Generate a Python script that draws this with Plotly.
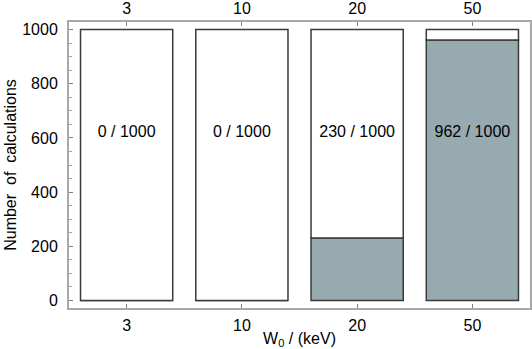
import plotly.graph_objects as go

# Data
energies = ["3", "10", "20", "50"]
converged = [0, 0, 230, 962]
total = [1000, 1000, 1000, 1000]
label_y = [620, 620, 620, 620]

remaining = [t - c for t, c in zip(total, converged)]
labels = [f"{c} / {t}" for c, t in zip(converged, total)]

fig = go.Figure()

# Gray part: converged calculations
fig.add_trace(go.Bar(x=energies, y=converged, marker_color="#97aab0",
                     marker_line_color="#3a3a3a", marker_line_width=1.5,
                     width=0.8, showlegend=False))
# White part: the rest up to the total
fig.add_trace(go.Bar(x=energies, y=remaining, base=converged, marker_color="white",
                     marker_line_color="#3a3a3a", marker_line_width=1.5,
                     width=0.8, showlegend=False))
# Labels in the middle of the bars
fig.add_trace(go.Scatter(x=energies, y=label_y, mode="text", text=labels,
                         textfont=dict(size=16, color="black"), showlegend=False))
# Invisible trace to get the top axis
fig.add_trace(go.Scatter(x=energies, y=label_y, xaxis="x2", mode="markers",
                         marker_opacity=0, showlegend=False, hoverinfo="skip"))

fig.update_layout(
    width=532, height=349,
    margin=dict(l=69, r=2, t=22, b=41),
    plot_bgcolor="white", paper_bgcolor="white",
    barmode="overlay",
    font=dict(family="Liberation Sans, Arial, sans-serif", size=16, color="black"),
    xaxis=dict(type="category", categoryorder="array", categoryarray=energies,
               range=[-0.5, 3.5], showline=True, linecolor="#a8a8a8", linewidth=2,
               ticks="inside", ticklen=4, tickcolor="#808080", showgrid=False,
               automargin=False, ticklabelstandoff=2,
               title=dict(text="W<sub>0</sub> / (keV)", standoff=0, font_size=16)),
    xaxis2=dict(type="category", categoryorder="array", categoryarray=energies,
                range=[-0.5, 3.5], overlaying="x", side="top", showline=True,
                linecolor="#a8a8a8", linewidth=2, ticks="inside", ticklen=4,
                tickcolor="#808080", showgrid=False, automargin=False),
    yaxis=dict(range=[-28, 1028], tickvals=[0, 200, 400, 600, 800, 1000],
               showline=True, linecolor="#a8a8a8", linewidth=2, mirror=True,
               ticks="inside", ticklen=4, tickcolor="#808080", showgrid=False,
               zeroline=False, automargin=False, ticklabelstandoff=6,
               minor=dict(dtick=50, tick0=0, ticks="inside", ticklen=3, tickcolor="#a0a0a0"),
               title=dict(text="Number  of  calculations", standoff=2, font_size=16)),
)

# drop the default page margin so the figure fills the window
fig.write_html("out.html", config={"displayModeBar": False},
               post_script="document.body.style.margin='0';document.body.style.overflow='hidden';")
